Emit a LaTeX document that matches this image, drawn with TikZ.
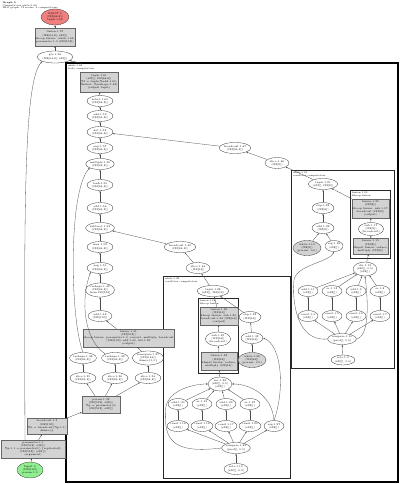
\documentclass[tikz,border=0pt]{standalone}
\usetikzlibrary{shapes.geometric,arrows.meta}
\definecolor{redfill}{HTML}{F08080}
\definecolor{greenfill}{HTML}{90EE90}
\definecolor{gfill}{HTML}{D3D3D3}
\tikzset{
  lbl/.style={font=\fontsize{2.6}{3.1}\selectfont, align=center},
  ell/.style={ellipse, draw=black!80, line width=0.3pt, inner sep=0pt, lbl},
  gell/.style={ell, fill=gfill},
  gbox/.style={rectangle, draw=black!60, fill=gfill, line width=0.3pt, inner sep=0.4pt, lbl},
  edge/.style={draw=black!70, line width=0.3pt, -{Stealth[length=2pt,width=1.5pt]}},
  clmain/.style={draw=black, line width=1.1pt},
  clsub/.style={draw=black!85, line width=0.6pt},
  cltext/.style={font=\fontsize{2.4}{2.9}\selectfont, align=left, anchor=north west, inner sep=0.3pt},
}
\begin{document}
\begin{tikzpicture}[x=1pt,y=-1pt]
\useasboundingbox (0,0) rectangle (400,484);
% clusters
\draw[clmain] (66,63) rectangle (398,482);
\draw[clsub] (163,276) rectangle (290,478);
\draw[clsub] (291,170) rectangle (394,368);
\draw[clsub] (198,298) rectangle (238,373);
\draw[clsub] (350,190) rectangle (390,258);
\node[cltext] (ttl) at (2,1) {\textbf{Graph 0}\\Computation while.1.62\\HLO graph: 74 nodes, 3 computations};
\node[cltext] (lmain) at (67.5,64.5) {while.1.62\\body computation};
\node[cltext] (lmid) at (164.5,277.5) {while.1.28\\condition computation};
\node[cltext] (lrt) at (292.5,171.5) {while.1.21\\condition computation};
\node[cltext] (lmidin) at (199.5,299.5) {fusion.1.26\\kLoop fusion};
\node[cltext] (lrtin) at (351.5,191.5) {fusion.1.20\\kLoop fusion};
% outside nodes
\node[ell, fill=redfill, minimum width=28pt, minimum height=16pt] (red) at (55,17) {ROOT 0\\(f32[64,8])\\tuple.1.63};
\node[gbox, minimum width=40pt, minimum height=18pt] (A) at (55,37) {fusion.1.57\\(f32[64,8], s32[])\\kLoop fusion: while.1.62,\\parameter.1.0 (f32[512])};
\node[ell, minimum width=28pt, minimum height=12pt] (P1) at (55,57) {gte.1.58\\(f32[64,8], s32[])};
\node[gbox, minimum width=40pt, minimum height=16pt] (C) at (47,426) {broadcast.1.3\\(f32[512])\\\%b = broadcast(\%p.1.1)\\dims=\{\}};
\node[gbox, minimum width=64pt, minimum height=18pt] (D) at (33,449) {parameter.1.1\\(f32[512], s32[])\\\%p.1.1 = parameter(0) \{replicated\}\\(f32[512]) (s32[])\\(argument)};
\node[ell, fill=greenfill, minimum width=26pt, minimum height=16pt] (green) at (30,470) {Input 0\\(f32[512])\\param.1.0};
\coordinate (bc) at (82,63.5);
% main cluster
\node[gbox, minimum width=38pt, minimum height=20pt] (B) at (99,82) {tuple.1.61\\(s32[], f32[64,8])\\\%t = tuple(\%add.1.60,\\\%select, \%reshape.1.43)\\(output tuple)};
\node[ell, minimum width=26pt, minimum height=11pt] (E1) at (100,101) {select.1.60\\(f32[64,8])};
\node[ell, minimum width=26pt, minimum height=11pt] (E2) at (100,116) {add.1.59\\(f32[64,8])};
\node[ell, minimum width=26pt, minimum height=11pt] (E3) at (100,132) {dot.1.58\\(f32[64,8])};
\node[ell, minimum width=26pt, minimum height=11pt] (E4) at (100,148) {exp.1.57\\(f32[64,8])};
\node[ell, minimum width=26pt, minimum height=11pt] (E5) at (100,164) {multiply.1.56\\(f32[64,8])};
\node[ell, minimum width=26pt, minimum height=11pt] (E6) at (100,185) {tanh.1.55\\(f32[64,8])};
\node[ell, minimum width=26pt, minimum height=11pt] (E7) at (100,208) {add.1.54\\(f32[64,8])};
\node[ell, minimum width=26pt, minimum height=11pt] (E8) at (100,228) {subtract.1.53\\(f32[64,8])};
\node[ell, minimum width=26pt, minimum height=11pt] (E9) at (100,247) {max.1.52\\(f32[64,8])};
\node[ell, minimum width=26pt, minimum height=11pt] (E10) at (100,268) {neg.1.51\\(f32[64,8])};
\node[ell, minimum width=26pt, minimum height=11pt] (R1) at (235,148) {broadcast.1.47\\(f32[64,8])};
\node[ell, minimum width=24pt, minimum height=11pt] (R2) at (277,163) {slice.1.46\\(f32[8])};
\node[ell, minimum width=26pt, minimum height=11pt] (R3) at (180,247) {broadcast.1.45\\(f32[64,8])};
\node[ell, minimum width=24pt, minimum height=11pt] (R4) at (198,268) {slice.1.44\\(f32[64])};
\node[ell, minimum width=24pt, minimum height=14pt] (Q1) at (100,290) {reshape.1.43\\(f32[64,8])\\from f32[512]};
\node[ell, minimum width=24pt, minimum height=11pt] (Q2) at (100,316) {add.1.42\\(f32[512])};
\node[gbox, minimum width=73pt, minimum height=18pt] (F) at (128.5,338) {fusion.1.41\\(f32[512])\\kLoop fusion: parameter.1.0, convert, multiply, broadcast\\(f32[512]) add.1.40, dot.1.39\\(output)};
\node[ell, minimum width=26pt, minimum height=11pt] (r1a) at (83,358) {reshape.1.38\\(f32[64,8])};
\node[ell, minimum width=26pt, minimum height=11pt] (r1b) at (115,358) {reshape.1.39\\(f32[64,8])};
\node[ell, minimum width=26pt, minimum height=14pt] (r1c) at (148,358) {transpose.1.37\\(f32[8,64])\\dims=\{1,0\}};
\node[ell, minimum width=26pt, minimum height=11pt] (r2a) at (83,378) {slice.1.35\\(f32[64,8])};
\node[ell, minimum width=26pt, minimum height=11pt] (r2b) at (115,378) {slice.1.36\\(f32[64,8])};
\node[ell, minimum width=26pt, minimum height=11pt] (r2c) at (148,378) {slice.1.34\\(f32[64,8])};
\node[gbox, minimum width=38pt, minimum height=17pt] (EB) at (101,404.5) {param.1.33\\(f32[512], s32[])\\\%p = parameter(0)\\(f32[512], s32[])};
% middle cluster
\node[ell, minimum width=24pt, minimum height=11pt] (M1) at (213,291) {tuple.1.28\\(s32[], f32[64])};
\node[gbox, minimum width=34pt, minimum height=18pt] (G) at (219,316) {fusion.1.26\\(f32[64])\\kLoop fusion: sub.1.25,\\broadcast.1.24 (f32[64])\\(output)};
\node[ell, minimum width=22pt, minimum height=14pt] (W) at (218,339) {sub.1.25\\(f32[64])\\(broadcast)};
\node[gbox, minimum width=34pt, minimum height=18pt] (H) at (219,361) {fusion.1.23\\(f32[64])\\kInput fusion: reduce,\\multiply (f32[64])};
\node[ell, minimum width=22pt, minimum height=11pt] (S1) at (250,317) {exp.1.33\\(f32[64])};
\node[ell, minimum width=22pt, minimum height=11pt] (S2) at (252,338) {add.1.32\\(f32[64])};
\node[gell, minimum width=26pt, minimum height=15pt] (S3) at (252,360) {while.1.38\\(f32[64])\\(param: 0.0)};
\node[ell, minimum width=22pt, minimum height=14pt] (X) at (220,384) {xor.1.28\\(s32[], 0.0)\\(s32[])};
\node[ell, minimum width=20pt, minimum height=11pt] (a1) at (178,404) {add.1.30\\(s32[])};
\node[ell, minimum width=20pt, minimum height=11pt] (a2) at (202,404) {or.1.31\\(s32[])};
\node[ell, minimum width=20pt, minimum height=11pt] (a3) at (226,404) {add.1.29\\(s32[])};
\node[ell, minimum width=20pt, minimum height=11pt] (a4) at (250,404) {or.1.27\\(s32[])};
\node[ell, minimum width=20pt, minimum height=11pt] (b1) at (178,426) {const.1.16\\(s32[])};
\node[ell, minimum width=20pt, minimum height=11pt] (b2) at (202,426) {const.1.18\\(s32[])};
\node[ell, minimum width=20pt, minimum height=11pt] (b3) at (226,426) {const.1.17\\(s32[])};
\node[ell, minimum width=20pt, minimum height=11pt] (b4) at (250,426) {const.1.20\\(s32[])};
\node[ell, minimum width=20pt, minimum height=11pt] (b5) at (274,426) {arg.1.27\\(s32[])};
\node[ell, minimum width=28pt, minimum height=11pt] (cmpM) at (236,448) {compare.1.22\\(pred[], 0.0)};
\node[ell, minimum width=24pt, minimum height=11pt] (botM) at (236,469) {iota.1.10\\(s32[], 0.0)};
% right cluster
\node[ell, minimum width=24pt, minimum height=11pt] (T1) at (323,184) {tuple.1.21\\(s32[], f32[8])};
\node[gbox, minimum width=35pt, minimum height=19pt] (G2) at (370.5,208.5) {fusion.1.20\\(f32[8])\\kLoop fusion: sub.1.17,\\broadcast (f32[8])\\(output)};
\node[ell, minimum width=24pt, minimum height=13pt] (W2) at (371,229) {sub.1.17\\(f32[8])\\(broadcast)};
\node[gbox, minimum width=35pt, minimum height=16pt] (H2) at (370.5,246) {fusion.1.15\\(f32[8])\\kInput fusion: reduce,\\multiply (f32[8])};
\node[ell, minimum width=22pt, minimum height=11pt] (U1) at (323,208) {exp.1.23\\(f32[8])};
\node[ell, minimum width=22pt, minimum height=11pt] (U2) at (323,228) {add.1.22\\(f32[8])};
\node[gell, minimum width=24pt, minimum height=15pt] (U3) at (307,248) {while.1.19\\(f32[8])\\(param: 0.0)};
\node[ell, minimum width=18pt, minimum height=11pt] (U4) at (334,246) {arg.1.18\\(s32[])};
\node[ell, minimum width=22pt, minimum height=14pt] (dv) at (365,269) {div.1.13\\(s32[], 0.0)\\(s32[])};
\node[ell, minimum width=20pt, minimum height=11pt] (c1) at (308,291) {add.1.11\\(s32[])};
\node[ell, minimum width=20pt, minimum height=11pt] (c2) at (332,291) {or.1.12\\(s32[])};
\node[ell, minimum width=20pt, minimum height=11pt] (c3) at (356,291) {add.1.9\\(s32[])};
\node[ell, minimum width=20pt, minimum height=11pt] (c4) at (380,291) {or.1.8\\(s32[])};
\node[ell, minimum width=20pt, minimum height=11pt] (d1) at (308,316) {const.1.4\\(s32[])};
\node[ell, minimum width=20pt, minimum height=11pt] (d2) at (332,316) {const.1.5\\(s32[])};
\node[ell, minimum width=20pt, minimum height=11pt] (d3) at (356,316) {const.1.6\\(s32[])};
\node[ell, minimum width=20pt, minimum height=11pt] (d4) at (380,316) {const.1.7\\(s32[])};
\node[ell, minimum width=28pt, minimum height=11pt] (cmpR) at (342,339) {compare.1.10\\(pred[], 0.0)};
\node[ell, minimum width=24pt, minimum height=10pt] (botR) at (343,360) {iota.1.3\\(s32[], 0.0)};
% edges outside
\draw[edge] (green) -- (D);
\draw[edge] (D) -- (C);
\draw[edge] (C) -- (EB);
\draw[edge] ([xshift=-8pt]D.north) .. controls (24,200) and (24,80) .. (P1.south west);
\draw[edge] (P1) -- (A);
\draw[edge] (A) -- (red);
\draw[edge] (bc) -- (P1);
% main column
\foreach \a/\b in {E10/E9,E9/E8,E8/E7,E7/E6,E6/E5,E5/E4,E4/E3,E3/E2,E2/E1,E1/B,Q1/E10,Q2/Q1,F/Q2,r1c/F,r2a/r1a,r2b/r1b,r2c/r1c,EB/r2a,EB/r2b,EB/r2c,R1/E3,R2/R1,T1/R2,R3/E8,R4/R3,M1/R4}
  \draw[edge] (\a) -- (\b);
\draw[edge] (r1a.north) .. controls (70,320) and (68,190) .. (E5.south west);
\draw[edge] (r1b.north west) .. controls (84,340) and (80,300) .. (E10.south west);
% middle cluster edges
\foreach \a/\b in {G/M1,W/G,H/W,X/H,S1/M1,S2/S1,S3/S2,a1/X,a2/X,a3/X,a4/X,b1/a1,b2/a2,b3/a3,b4/a4,cmpM/b1,cmpM/b2,cmpM/b3,cmpM/b4,cmpM/b5,botM/cmpM}
  \draw[edge] (\a) -- (\b);
\draw[edge] (b5.north) .. controls (272,395) and (250,384) .. (X.east);
\draw[edge] (b5.north) .. controls (285,390) and (282,345) .. (S2.east);
\draw[edge] (cmpM.west) .. controls (172,454) and (164,440) .. (165.5,410) .. controls (166,392) and (190,384) .. (X.west);
% right cluster edges
\foreach \a/\b in {U1/T1,U2/U1,U3/U2,U4/U2,G2/T1,W2/G2,H2/W2,dv/H2,c1/dv,c2/dv,c3/dv,c4/dv,d1/c1,d2/c2,d3/c3,d4/c4,cmpR/d1,cmpR/d2,cmpR/d3,cmpR/d4,botR/cmpR}
  \draw[edge] (\a) -- (\b);
\draw[edge] (cmpR.west) .. controls (296,342) and (292,300) .. (294,280) .. controls (296,265) and (330,262) .. (U4.south);
\draw[edge] (cmpR.east) .. controls (370,336) and (368,300) .. (dv.south);
\end{tikzpicture}
\end{document}
